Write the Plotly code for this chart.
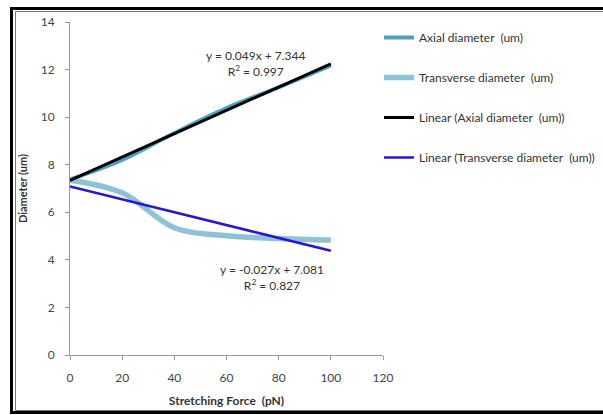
import plotly.graph_objects as go

force = [0, 20, 40, 60, 80, 100]
axial = [7.38, 8.20, 9.33, 10.38, 11.25, 12.17]
transverse = [7.35, 6.82, 5.35, 5.01, 4.90, 4.83]

axial_fit = [0.049, 7.344]      # slope, intercept
trans_fit = [-0.027, 7.081]
axial_r2 = 0.997
trans_r2 = 0.827

x_ticks = [0, 20, 40, 60, 80, 100, 120]
y_ticks = [0, 2, 4, 6, 8, 10, 12, 14]

fit_x = [force[0], force[-1]]

FONT = "Lato, 'Open Sans', sans-serif"

fig = go.Figure()
fig.add_trace(go.Scatter(x=force, y=axial, mode="lines", line=dict(color="#4BA3BE", width=4, shape="spline"),
                         name="Axial diameter  (um)", legendgroup="a"))
fig.add_trace(go.Scatter(x=force, y=transverse, mode="lines", line=dict(color="#8EC2D5", width=5.5, shape="spline"),
                         name="Transverse diameter  (um)", legendgroup="b"))
fig.add_trace(go.Scatter(x=fit_x, y=[axial_fit[0] * v + axial_fit[1] for v in fit_x], mode="lines",
                         line=dict(color="#000000", width=3), name="Linear (Axial diameter  (um))", legendgroup="c"))
fig.add_trace(go.Scatter(x=fit_x, y=[trans_fit[0] * v + trans_fit[1] for v in fit_x], mode="lines",
                         line=dict(color="#2A14D6", width=2.5), name="Linear (Transverse diameter  (um))", legendgroup="d"))

def fmt_eq(fit):
    sign = "+" if fit[1] >= 0 else "-"
    return f"y = {fit[0]:.3f}x {sign} {abs(fit[1]):.3f}"

fig.add_annotation(x=71, y=12.27, xref="x", yref="y", text=fmt_eq(axial_fit) + f"<br>R<sup>2</sup> = {axial_r2:.3f}",
                   showarrow=False, font=dict(family=FONT, size=12, color="#333"), align="center")
fig.add_annotation(x=77.5, y=3.26, xref="x", yref="y", text=fmt_eq(trans_fit) + f"<br>R<sup>2</sup> = {trans_r2:.3f}",
                   showarrow=False, font=dict(family=FONT, size=12, color="#333"), align="center")

# frame (border lines)
L, T, W, H = 70, 22, 313, 333
def px(x): return (x - L) / W
def py(y): return (T + H - y) / H
fig.add_shape(type="rect", xref="paper", yref="paper", x0=px(11.5), x1=px(640), y0=py(412.5), y1=py(8.5),
              line=dict(color="#000", width=3))
fig.add_shape(type="rect", xref="paper", yref="paper", x0=px(15.5), x1=px(640), y0=py(410.5), y1=py(11.5),
              line=dict(color="#777", width=1))

fig.update_layout(
    width=603, height=415,
    margin=dict(l=L, r=603 - L - W, t=T, b=415 - T - H, autoexpand=False),
    paper_bgcolor="white", plot_bgcolor="white",
    font=dict(family=FONT, size=12, color="#444"),
    showlegend=True,
    legend=dict(x=px(379), y=py(23), xanchor="left", yanchor="top", traceorder="grouped",
                tracegroupgap=21, font=dict(family=FONT, size=12, color="#333"),
                bgcolor="rgba(0,0,0,0)", itemwidth=30),
    xaxis=dict(range=[0, 120], tickvals=x_ticks, showgrid=False, zeroline=False,
               showline=True, linecolor="#999", linewidth=1, ticks="outside", ticklen=4, tickcolor="#999",
               ticklabelstandoff=8, tickfont=dict(size=12, color="#444"),
               title=dict(text="<b>Stretching Force  (pN)</b>", font=dict(size=12, color="#333"), standoff=12)),
    yaxis=dict(range=[0, 14], tickvals=y_ticks, showgrid=False, zeroline=False,
               showline=True, linecolor="#999", linewidth=1, ticks="outside", ticklen=4, tickcolor="#999",
               ticklabelstandoff=8, tickfont=dict(size=12, color="#444"),
               title=dict(text="<b>Diameter (um)</b>", font=dict(size=11, color="#333"), standoff=10)),
)

fig.write_html("out.html")
